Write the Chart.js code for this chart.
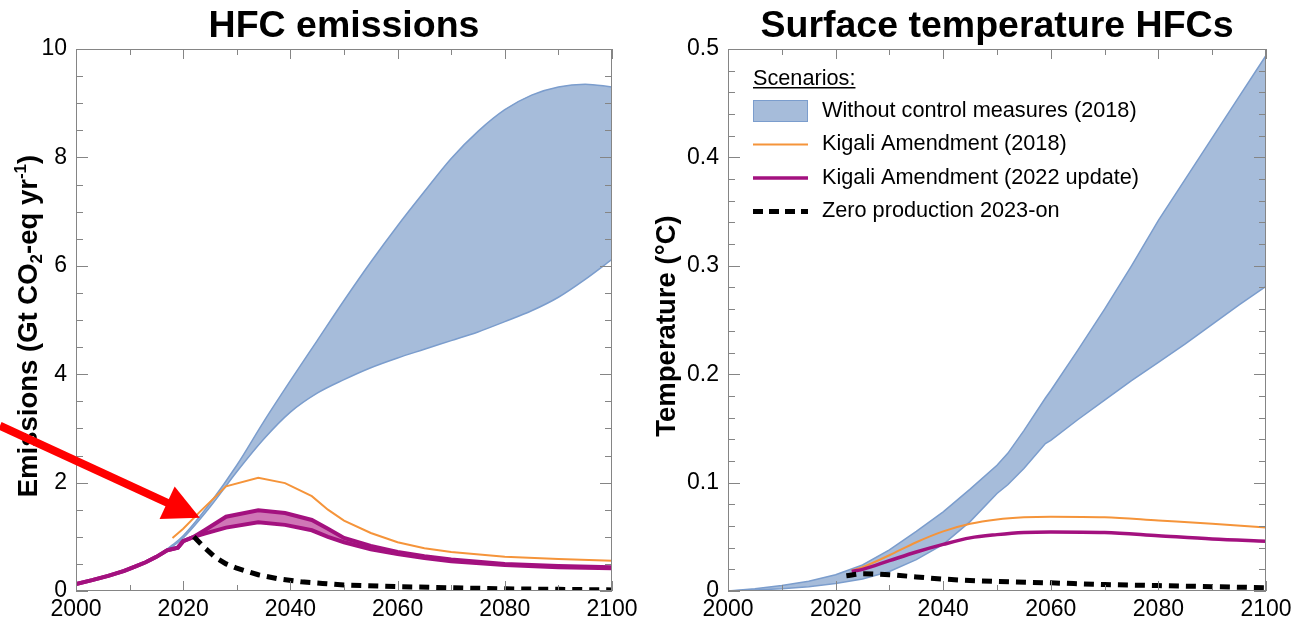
<!DOCTYPE html>
<html>
<head>
<meta charset="utf-8">
<script src="https://cdn.jsdelivr.net/npm/chart.js@4.4.1/dist/chart.umd.min.js"></script>
<style>
  html, body { margin: 0; padding: 0; background: #fff; }
  body { width: 1297px; height: 624px; position: relative; overflow: hidden; }
  .panel { position: absolute; top: 0; height: 624px; }
  #emisPanel { left: 0; width: 650px; }
  #tempPanel { left: 650px; width: 647px; }
</style>
</head>
<body>
<div class="panel" id="emisPanel"><canvas id="emisChart"></canvas></div>
<div class="panel" id="tempPanel"><canvas id="tempChart"></canvas></div>
<script>
// ---- Left panel: HFC emissions (Gt CO2-eq / yr) ----
const emisNoCtrlYears = [2014, 2016, 2018, 2020, 2025, 2030, 2035, 2040, 2045, 2050, 2055, 2060, 2065, 2070, 2075, 2080, 2085, 2090, 2095, 2100];
const emisNoCtrlHigh  = [0.57, 0.70, 0.85, 1.02, 1.62, 2.32, 3.12, 3.88, 4.62, 5.36, 6.07, 6.74, 7.37, 7.98, 8.48, 8.88, 9.15, 9.30, 9.35, 9.30];
const emisNoCtrlLow   = [0.57, 0.68, 0.82, 0.98, 1.55, 2.20, 2.80, 3.30, 3.65, 3.90, 4.12, 4.30, 4.46, 4.62, 4.78, 4.97, 5.17, 5.42, 5.75, 6.12];

const emisKigali18Years = [2018, 2020, 2023, 2028, 2034, 2039, 2044, 2047, 2050, 2055, 2060, 2065, 2070, 2080, 2090, 2100];
const emisKigali18      = [0.98, 1.15, 1.45, 1.93, 2.09, 1.99, 1.75, 1.50, 1.30, 1.07, 0.90, 0.79, 0.72, 0.63, 0.59, 0.56];

const emisKigali22Years = [2000, 2003, 2006, 2009, 2011, 2013, 2015, 2017, 2019, 2020, 2022, 2024, 2028, 2034, 2039, 2044, 2047, 2050, 2055, 2060, 2065, 2070, 2080, 2090, 2100];
const emisKigali22High  = [0.13, 0.20, 0.28, 0.37, 0.45, 0.53, 0.63, 0.75, 0.80, 0.92, 1.00, 1.12, 1.37, 1.49, 1.44, 1.31, 1.15, 0.98, 0.83, 0.72, 0.64, 0.58, 0.50, 0.46, 0.44];
const emisKigali22Low   = [0.13, 0.20, 0.28, 0.37, 0.45, 0.53, 0.63, 0.75, 0.80, 0.92, 1.00, 1.06, 1.17, 1.27, 1.22, 1.12, 1.00, 0.90, 0.77, 0.68, 0.61, 0.55, 0.48, 0.44, 0.42];

const emisZeroYears = [2022, 2024, 2026, 2028, 2030, 2034, 2038, 2042, 2046, 2050, 2060, 2070, 2080, 2090, 2100];
const emisZero      = [1.00, 0.80, 0.62, 0.50, 0.42, 0.30, 0.22, 0.17, 0.14, 0.11, 0.08, 0.06, 0.04, 0.03, 0.02];

const emisYTicks = [0, 2, 4, 6, 8, 10];

// ---- Right panel: surface temperature (degC) ----
const tempNoCtrlYears = [2000, 2005, 2010, 2015, 2020, 2025, 2030, 2035, 2040, 2045, 2050, 2052, 2055, 2059, 2060, 2065, 2070, 2075, 2080, 2085, 2090, 2095, 2100];
const tempNoCtrlHigh  = [0, 0.002, 0.005, 0.009, 0.015, 0.024, 0.038, 0.055, 0.073, 0.094, 0.116, 0.127, 0.148, 0.178, 0.185, 0.222, 0.260, 0.300, 0.342, 0.380, 0.418, 0.456, 0.494];
const tempNoCtrlLow   = [0, 0.001, 0.002, 0.004, 0.007, 0.011, 0.018, 0.029, 0.043, 0.064, 0.090, 0.098, 0.113, 0.136, 0.139, 0.158, 0.176, 0.194, 0.211, 0.228, 0.246, 0.264, 0.281];

const tempScenYears = [2023, 2025, 2030, 2035, 2040, 2045, 2050, 2055, 2060, 2070, 2080, 2090, 2100];
const tempKigali18  = [0.019, 0.022, 0.033, 0.045, 0.055, 0.062, 0.066, 0.068, 0.0686, 0.068, 0.065, 0.062, 0.0585];
const tempKigali22  = [0.018, 0.020, 0.028, 0.036, 0.043, 0.049, 0.052, 0.054, 0.0545, 0.054, 0.051, 0.048, 0.046];

const tempZeroYears = [2022, 2025, 2030, 2035, 2040, 2050, 2060, 2070, 2080, 2090, 2100];
const tempZero      = [0.014, 0.016, 0.015, 0.013, 0.011, 0.0088, 0.0075, 0.006, 0.005, 0.004, 0.003];

const tempYTicks = [0, 0.1, 0.2, 0.3, 0.4, 0.5];
const yearTicks = [2000, 2020, 2040, 2060, 2080, 2100];

const legendItems = [
    { label: 'Without control measures (2018)', kind: 'box' },
    { label: 'Kigali Amendment (2018)', kind: 'orange' },
    { label: 'Kigali Amendment (2022 update)', kind: 'magenta' },
    { label: 'Zero production 2023-on', kind: 'dash' }
];

// axis titles, split where sub/superscripts are needed
const emisYTitle = [{ t: 'Emissions (Gt CO' }, { t: '2', sub: true }, { t: '-eq yr' }, { t: '-1', sup: true }, { t: ')' }];
const tempYTitle = [{ t: 'Temperature (\u00B0C)' }];

const FONT = '"Liberation Sans", Arial, sans-serif';
const BLUE_FILL = '#a6bcda';
const BLUE_LINE = '#7b9dcd';
const ORANGE = '#f5943a';
const MAGENTA = '#a3117f';
const MAGENTA_FILL = '#cf76b6';

Chart.defaults.font.family = FONT;
Chart.defaults.color = '#000';

const pts = (xs, ys) => xs.map((x, i) => ({ x: x, y: ys[i] }));

// Panel title and rotated y-axis title
const panelText = {
    id: 'panelText',
    afterDraw: (chart, args, opts) => {
        const { ctx, chartArea: a } = chart;
        ctx.save();
        ctx.font = 'bold 37.5px ' + FONT;
        ctx.fillStyle = '#000';
        ctx.textAlign = 'center';
        ctx.textBaseline = 'alphabetic';
        ctx.fillText(opts.title, (a.left + a.right) / 2, 36.5);

        // y-axis title
        const size = opts.ySize;
        const fontFor = (p) => 'bold ' + (p.sub || p.sup ? size * 0.62 : size) + 'px ' + FONT;
        let total = 0;
        opts.yParts.forEach(p => { ctx.font = fontFor(p); total += ctx.measureText(p.t).width; });
        ctx.translate(opts.yX, (a.top + a.bottom) / 2 + 6);
        ctx.rotate(-Math.PI / 2);
        ctx.textAlign = 'left';
        let cx = -total / 2;
        const base = size * 0.36;
        opts.yParts.forEach(p => {
            ctx.font = fontFor(p);
            const dy = p.sub ? size * 0.2 : p.sup ? -size * 0.38 : 0;
            ctx.fillText(p.t, cx, base + dy);
            cx += ctx.measureText(p.t).width;
        });
        ctx.restore();
    }
};

// Grey frame with inward ticks on all four sides
const frameTicks = {
    id: 'frameTicks',
    afterDraw: (chart, args, opts) => {
        const { ctx, chartArea: a, scales: { x, y } } = chart;
        ctx.save();
        ctx.strokeStyle = '#858585';
        ctx.lineWidth = 1;
        ctx.beginPath();
        for (let v = x.min; v <= x.max + 1e-9; v += opts.xMinor) {
            const px = Math.round(x.getPixelForValue(v)) + 0.5;
            const len = Math.abs(v / opts.xMajor - Math.round(v / opts.xMajor)) < 1e-6 ? 10 : 6;
            ctx.moveTo(px, a.bottom); ctx.lineTo(px, a.bottom - len);
            ctx.moveTo(px, a.top); ctx.lineTo(px, a.top + len);
        }
        for (let v = y.min; v <= y.max + 1e-9; v += opts.yMinor) {
            const py = Math.round(y.getPixelForValue(v)) + 0.5;
            const len = Math.abs(v / opts.yMajor - Math.round(v / opts.yMajor)) < 1e-6 ? 12 : 7;
            ctx.moveTo(a.left, py); ctx.lineTo(a.left + len, py);
            ctx.moveTo(a.right, py); ctx.lineTo(a.right - len, py);
        }
        ctx.stroke();
        ctx.strokeRect(a.left + 0.5, a.top + 0.5, a.width - 1, a.height - 1);
        ctx.restore();
    }
};

// Red annotation arrow, given in data coordinates
const redArrow = {
    id: 'redArrow',
    afterDraw: (chart, args, opts) => {
        if (!opts.from) return;
        const { ctx, scales: { x, y } } = chart;
        const x0 = x.getPixelForValue(opts.from[0]), y0 = y.getPixelForValue(opts.from[1]);
        const x1 = x.getPixelForValue(opts.to[0]), y1 = y.getPixelForValue(opts.to[1]);
        const ang = Math.atan2(y1 - y0, x1 - x0);
        const headLen = 36, headHalf = 18;
        const bx = x1 - headLen * Math.cos(ang), by = y1 - headLen * Math.sin(ang);
        ctx.save();
        ctx.strokeStyle = '#ff0000';
        ctx.fillStyle = '#ff0000';
        ctx.lineWidth = 8;
        ctx.beginPath();
        ctx.moveTo(x0, y0);
        ctx.lineTo(bx + 4 * Math.cos(ang), by + 4 * Math.sin(ang));
        ctx.stroke();
        ctx.beginPath();
        ctx.moveTo(x1, y1);
        ctx.lineTo(bx - headHalf * Math.sin(ang), by + headHalf * Math.cos(ang));
        ctx.lineTo(bx + headHalf * Math.sin(ang), by - headHalf * Math.cos(ang));
        ctx.closePath();
        ctx.fill();
        ctx.restore();
    }
};

// "Scenarios:" legend drawn inside the plot area
const scenarioLegend = {
    id: 'scenarioLegend',
    afterDraw: (chart, args, opts) => {
        if (!opts.items) return;
        const { ctx, chartArea: a } = chart;
        const left = a.left + 25;
        ctx.save();
        ctx.font = '21.7px ' + FONT;
        ctx.fillStyle = '#000';
        ctx.textBaseline = 'alphabetic';
        ctx.fillText('Scenarios:', left, 85);
        const w = ctx.measureText('Scenarios:').width;
        ctx.fillRect(left, 87, w, 1.5);
        ctx.textBaseline = 'middle';
        opts.items.forEach((item, i) => {
            const cy = 111 + i * 33.5;
            if (item.kind === 'box') {
                ctx.fillStyle = BLUE_FILL;
                ctx.fillRect(left, cy - 11, 55, 22);
                ctx.strokeStyle = BLUE_LINE;
                ctx.lineWidth = 1;
                ctx.strokeRect(left + 0.5, cy - 10.5, 54, 21);
            } else {
                ctx.beginPath();
                ctx.setLineDash(item.kind === 'dash' ? [10, 6] : []);
                ctx.strokeStyle = item.kind === 'orange' ? ORANGE : item.kind === 'magenta' ? MAGENTA : '#000';
                ctx.lineWidth = item.kind === 'orange' ? 2 : item.kind === 'magenta' ? 3.5 : 5;
                ctx.moveTo(left, cy);
                ctx.lineTo(left + 55, cy);
                ctx.stroke();
                ctx.setLineDash([]);
            }
            ctx.fillStyle = '#000';
            ctx.fillText(item.label, left + 69, cy);
        });
        ctx.restore();
    }
};

const lineDefaults = { pointRadius: 0, fill: false, tension: 0 };

function makeOptions(cfg) {
    return {
        responsive: true,
        maintainAspectRatio: false,
        animation: false,
        layout: { padding: { top: 49, right: cfg.padRight, bottom: 0, left: 0 } },
        plugins: {
            legend: { display: false },
            tooltip: { enabled: false },
            panelText: { title: cfg.title, yParts: cfg.yTitle, ySize: 27.5, yX: cfg.yTitleX },
            frameTicks: cfg.ticks,
            redArrow: cfg.arrow || {},
            scenarioLegend: cfg.legend || {}
        },
        scales: {
            x: {
                type: 'linear', min: 2000, max: 2100,
                grid: { display: false, drawTicks: false },
                border: { display: false },
                afterBuildTicks: (s) => { s.ticks = yearTicks.map(v => ({ value: v })); },
                afterFit: (s) => { s.height = 33; },
                ticks: { padding: 5, font: { size: 23 }, maxRotation: 0, callback: (v) => String(v) }
            },
            y: {
                type: 'linear', min: cfg.yTicks[0], max: cfg.yTicks[cfg.yTicks.length - 1],
                grid: { display: false, drawTicks: false },
                border: { display: false },
                afterBuildTicks: (s) => { s.ticks = cfg.yTicks.map(v => ({ value: v })); },
                afterFit: (s) => { s.width = cfg.yWidth; },
                ticks: { padding: 9, font: { size: 23 }, callback: (v) => String(v) }
            }
        }
    };
}

// Emissions chart
new Chart(document.getElementById('emisChart'), {
    type: 'line',
    data: {
        datasets: [
            { ...lineDefaults, label: 'Zero production 2023-on', data: pts(emisZeroYears, emisZero),
              borderColor: '#000', borderWidth: 5, borderDash: [10, 7], order: 1 },
            { ...lineDefaults, label: 'Kigali 2022 low', data: pts(emisKigali22Years, emisKigali22Low),
              borderColor: MAGENTA, borderWidth: 4, order: 2 },
            { ...lineDefaults, label: 'Kigali 2022 high', data: pts(emisKigali22Years, emisKigali22High),
              borderColor: MAGENTA, borderWidth: 4, backgroundColor: MAGENTA_FILL, fill: 1, order: 2 },
            { ...lineDefaults, label: 'Kigali 2018', data: pts(emisKigali18Years, emisKigali18),
              borderColor: ORANGE, borderWidth: 2, order: 3 },
            { ...lineDefaults, label: 'No control low', data: pts(emisNoCtrlYears, emisNoCtrlLow),
              borderColor: BLUE_LINE, borderWidth: 1.5, cubicInterpolationMode: 'monotone', order: 4 },
            { ...lineDefaults, label: 'No control high', data: pts(emisNoCtrlYears, emisNoCtrlHigh),
              borderColor: BLUE_LINE, borderWidth: 1.5, backgroundColor: BLUE_FILL, fill: 4,
              cubicInterpolationMode: 'monotone', order: 5 }
        ]
    },
    options: makeOptions({
        title: 'HFC emissions',
        padRight: 38,
        yWidth: 76,
        yTicks: emisYTicks,
        yTitle: emisYTitle,
        yTitleX: 27,
        ticks: { xMinor: 10, xMajor: 20, yMinor: 0.5, yMajor: 2 },
        arrow: { from: [1985.8, 3.05], to: [2023.1, 1.35] }
    }),
    plugins: [panelText, frameTicks, redArrow]
});

// Temperature chart
new Chart(document.getElementById('tempChart'), {
    type: 'line',
    data: {
        datasets: [
            { ...lineDefaults, label: 'Zero production 2023-on', data: pts(tempZeroYears, tempZero),
              borderColor: '#000', borderWidth: 5, borderDash: [10, 7], cubicInterpolationMode: 'monotone', order: 1 },
            { ...lineDefaults, label: 'Kigali Amendment (2022 update)', data: pts(tempScenYears, tempKigali22),
              borderColor: MAGENTA, borderWidth: 3.5, cubicInterpolationMode: 'monotone', order: 2 },
            { ...lineDefaults, label: 'Kigali Amendment (2018)', data: pts(tempScenYears, tempKigali18),
              borderColor: ORANGE, borderWidth: 2, cubicInterpolationMode: 'monotone', order: 3 },
            { ...lineDefaults, label: 'No control low', data: pts(tempNoCtrlYears, tempNoCtrlLow),
              borderColor: BLUE_LINE, borderWidth: 1.5, order: 4 },
            { ...lineDefaults, label: 'No control high', data: pts(tempNoCtrlYears, tempNoCtrlHigh),
              borderColor: BLUE_LINE, borderWidth: 1.5, backgroundColor: BLUE_FILL, fill: 3, order: 5 }
        ]
    },
    options: makeOptions({
        title: 'Surface temperature HFCs',
        padRight: 31,
        yWidth: 78,
        yTicks: tempYTicks,
        yTitle: tempYTitle,
        yTitleX: 15.5,
        ticks: { xMinor: 10, xMajor: 20, yMinor: 0.02, yMajor: 0.1 },
        legend: { items: legendItems }
    }),
    plugins: [panelText, frameTicks, scenarioLegend]
});
</script>
</body>
</html>
